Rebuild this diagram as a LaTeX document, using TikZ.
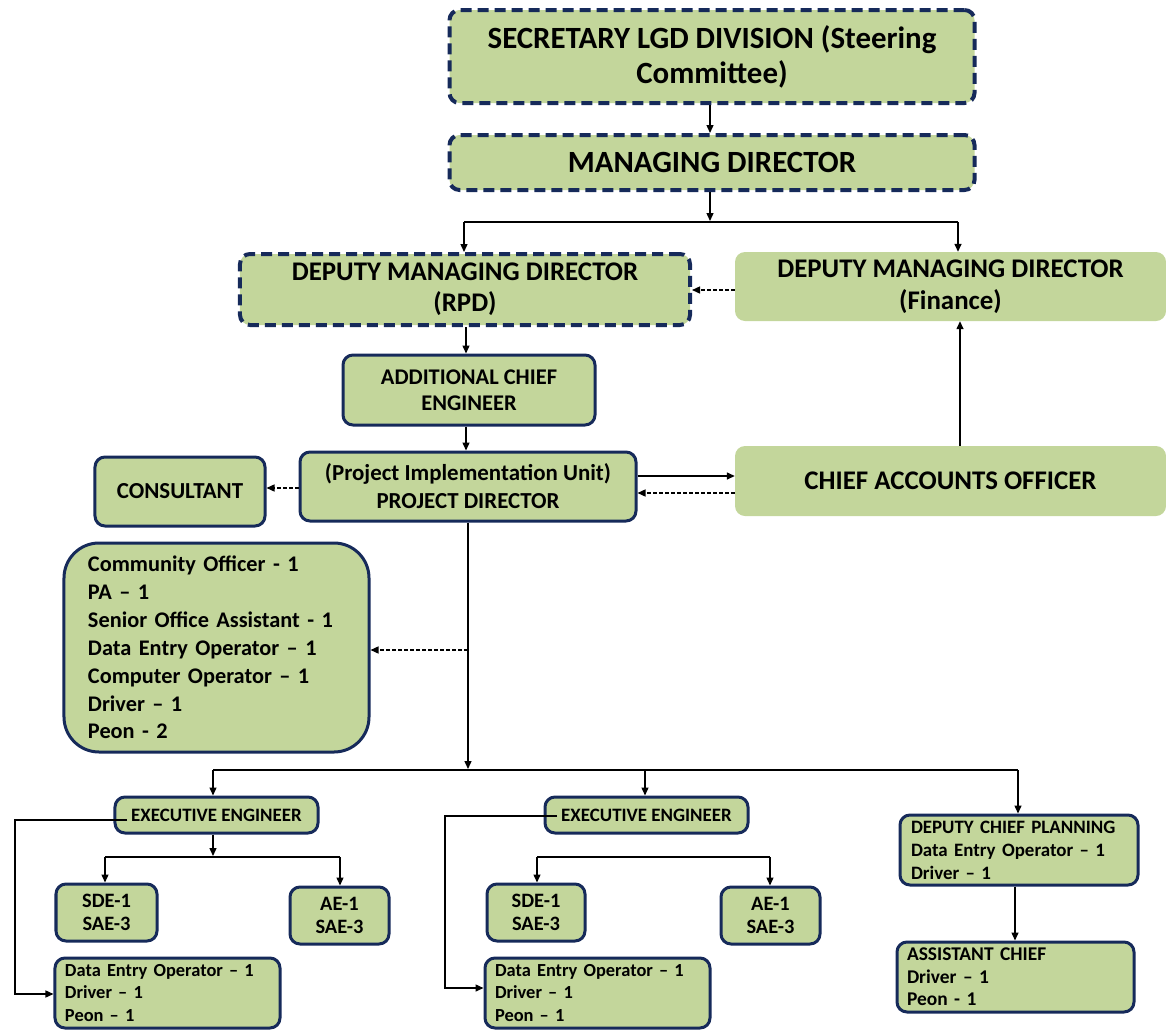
\documentclass[tikz,border=0pt]{standalone}
\usepackage{fontspec}
\setmainfont{Carlito}
\usetikzlibrary{arrows.meta}
\definecolor{boxfill}{RGB}{195,214,155}
\definecolor{navy}{RGB}{22,42,90}
\begin{document}
\begin{tikzpicture}[x=1bp,y=-1bp,
 base/.style={fill=boxfill, rounded corners=10bp, font=\bfseries, align=center, inner sep=0pt},
 dashbox/.style={base, draw=navy, line width=4bp, dash pattern=on 11bp off 6bp},
 solidbox/.style={base, draw=navy, line width=3bp},
 plainbox/.style={base},
 conn/.style={line width=1.4bp, -{Triangle[length=8bp,width=7bp]}},
 dconn/.style={conn, dash pattern=on 4bp off 2bp},
 bar/.style={line width=1.4bp}]
\useasboundingbox (0,0) rectangle (1166,1031);

% nodes
\node[dashbox, minimum width=525bp, minimum height=93bp, font=\bfseries\fontsize{31}{35}\selectfont] (sec) at (712,56.5) {SECRETARY LGD DIVISION (Steering\\Committee)};
\node[dashbox, minimum width=525bp, minimum height=55bp, font=\bfseries\fontsize{31}{35}\selectfont] (md) at (712,162.5) {MANAGING DIRECTOR};
\node[dashbox, minimum width=450bp, minimum height=71bp, font=\bfseries\fontsize{27}{31}\selectfont] (dmdr) at (465,289.5) {DEPUTY MANAGING DIRECTOR\\(RPD)};
\node[plainbox, minimum width=431bp, minimum height=69bp, font=\bfseries\fontsize{27}{32}\selectfont] (dmdf) at (950.5,286.5) {DEPUTY MANAGING DIRECTOR\\(Finance)};
\node[solidbox, minimum width=252bp, minimum height=70bp, font=\bfseries\fontsize{22.5}{26}\selectfont] (ace) at (469,390) {ADDITIONAL CHIEF\\ENGINEER};
\node[solidbox, minimum width=336bp, minimum height=69bp, font=\bfseries\fontsize{23}{28}\selectfont] (pd) at (468,486.5) {(Project Implementation Unit)\\PROJECT DIRECTOR};
\node[solidbox, minimum width=170bp, minimum height=69bp, font=\bfseries\fontsize{23}{26}\selectfont] (cons) at (180,491.5) {CONSULTANT};
\node[plainbox, minimum width=431bp, minimum height=70bp, font=\bfseries\fontsize{27}{28}\selectfont] (cao) at (950.5,481) {CHIEF ACCOUNTS OFFICER};
\node[solidbox, rounded corners=35bp, minimum width=305bp, minimum height=209bp, text width=257bp, align=left, font=\bfseries\fontsize{22.4}{28}\selectfont] (staff) at (216.5,647.5) {Community Officer - 1\\PA -- 1\\Senior Office Assistant - 1\\Data Entry Operator -- 1\\Computer Operator -- 1\\Driver -- 1\\Peon - 2};

\node[solidbox, minimum width=203bp, minimum height=36bp, font=\bfseries\fontsize{19}{20}\selectfont] (ee1) at (216.5,815) {EXECUTIVE ENGINEER};
\node[solidbox, minimum width=203bp, minimum height=36bp, font=\bfseries\fontsize{19}{20}\selectfont] (ee2) at (646.5,815) {EXECUTIVE ENGINEER};
\node[solidbox, minimum width=238bp, minimum height=70bp, text width=216bp, align=left, font=\bfseries\fontsize{19}{23}\selectfont] (dcp) at (1019,850) {DEPUTY CHIEF PLANNING\\Data Entry Operator -- 1\\Driver -- 1};

\node[solidbox, minimum width=101bp, minimum height=57bp, font=\bfseries\fontsize{20.5}{23}\selectfont] (sde1) at (106.5,912.5) {SDE-1\\SAE-3};
\node[solidbox, minimum width=99bp, minimum height=57bp, font=\bfseries\fontsize{20.5}{23}\selectfont] (ae1) at (339.5,915.5) {AE-1\\SAE-3};
\node[solidbox, minimum width=98bp, minimum height=57bp, font=\bfseries\fontsize{20.5}{23}\selectfont] (sde2) at (536,912.5) {SDE-1\\SAE-3};
\node[solidbox, minimum width=99bp, minimum height=57bp, font=\bfseries\fontsize{20.5}{23}\selectfont] (ae2) at (770.5,915.5) {AE-1\\SAE-3};

\node[solidbox, minimum width=225bp, minimum height=70bp, text width=205bp, align=left, font=\bfseries\fontsize{18.5}{22.5}\selectfont] (deo1) at (167.5,993) {Data Entry Operator -- 1\\Driver -- 1\\Peon -- 1};
\node[solidbox, minimum width=225bp, minimum height=70bp, text width=205bp, align=left, font=\bfseries\fontsize{18.5}{22.5}\selectfont] (deo2) at (597.5,993) {Data Entry Operator -- 1\\Driver -- 1\\Peon -- 1};
\node[solidbox, minimum width=237bp, minimum height=70bp, text width=217bp, align=left, font=\bfseries\fontsize{19.5}{22.5}\selectfont] (ac) at (1015.5,977) {ASSISTANT CHIEF\\Driver -- 1\\Peon - 1};

% connectors
\draw[conn] (sec.south -| 710,0) -- (md.north -| 710,0);
\coordinate (j1) at (710,222);
\draw[conn] (md.south -| j1) -- ([yshift=1bp]j1);
\coordinate (l1) at (464,222);
\coordinate (r1) at (958,222);
\draw[bar] (l1) -- (r1);
\draw[conn] (l1) -- (l1 |- dmdr.north);
\draw[conn] (r1) -- (r1 |- dmdf.north);
\coordinate (f1) at (735,290);
\draw[dconn] (f1 -| dmdf.west) -- (f1 -| dmdr.east);
\draw[conn] (dmdr.south -| 466,0) -- (ace.north -| 466,0);
\draw[conn] (ace.south -| 466,0) -- (pd.north -| 466,0);
\coordinate (c1) at (300,488);
\draw[dconn] (c1 -| pd.west) -- (c1 -| cons.east);
\coordinate (p1) at (636,476);
\coordinate (p2) at (636,493);
\draw[conn] (p1 -| pd.east) -- (p1 -| cao.west);
\draw[dconn] (p2 -| cao.west) -- (p2 -| pd.east);
\coordinate (cf) at (960,400);
\draw[conn] (cf |- cao.north) -- (cf |- dmdf.south);

\coordinate (j2) at (468,770);
\draw[conn] (pd.south -| j2) -- ([yshift=1bp]j2);
\coordinate (j3) at (468,650);
\draw[dconn] (j3) -- (j3 -| staff.east);
\coordinate (b1) at (213,770);
\coordinate (b2) at (645,770);
\coordinate (b3) at (1018,770);
\draw[bar] (b1) -- (b3);
\draw[conn] (b1) -- (b1 |- ee1.north);
\draw[conn] (b2) -- (b2 |- ee2.north);
\draw[conn] (b3) -- (b3 |- dcp.north);

\coordinate (e1) at (213,857);
\draw[conn] (ee1.south -| e1) -- ([yshift=1bp]e1);
\coordinate (s1) at (105,857);
\coordinate (a1) at (340,857);
\draw[bar] (s1) -- (a1);
\draw[conn] (s1) -- (s1 |- sde1.north);
\draw[conn] (a1) -- (a1 |- ae1.north);

\coordinate (s2) at (537,857);
\coordinate (a2) at (770,857);
\draw[bar] (s2) -- (a2);
\draw[conn] (s2) -- (s2 |- sde2.north);
\draw[conn] (a2) -- (a2 |- ae2.north);

\coordinate (k1) at (127,820);
\coordinate (k2) at (15,994);
\draw[conn] (k1) -| (k2) -- (k2 -| deo1.west);
\coordinate (m1) at (557,816);
\coordinate (m2) at (445,988);
\draw[conn] (m1) -| (m2) -- (m2 -| deo2.west);

\draw[conn] (dcp.south -| 1015,0) -- (ac.north -| 1015,0);
\end{tikzpicture}
\end{document}
